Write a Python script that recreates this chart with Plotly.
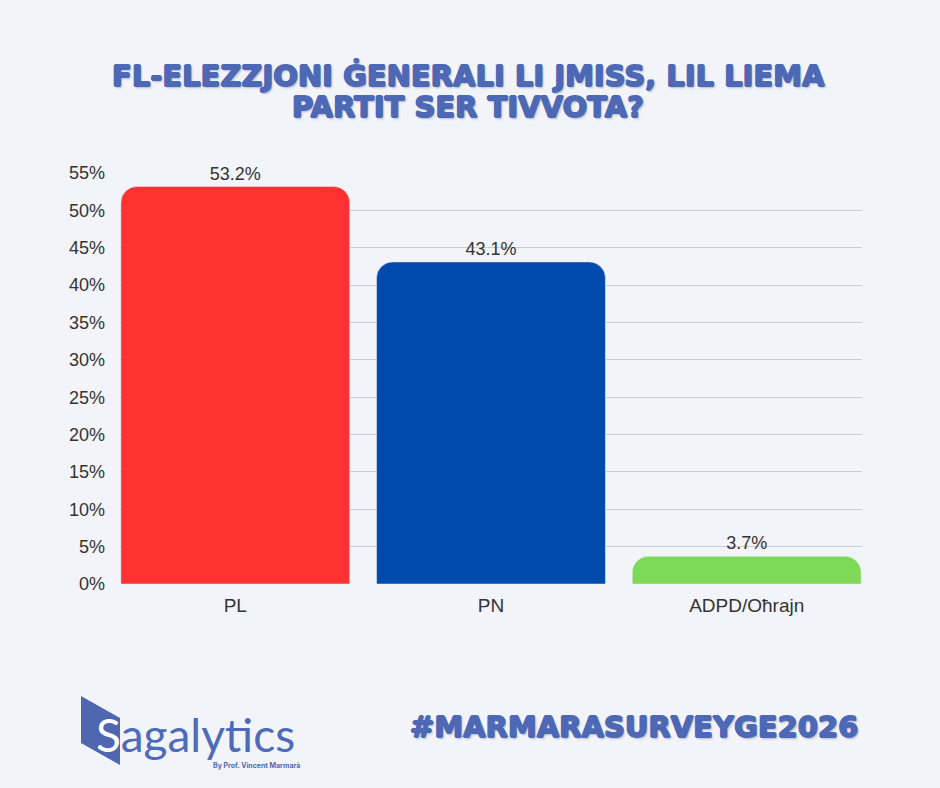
import plotly.graph_objects as go

categories = ["PL", "PN", "ADPD/Oħrajn"]
values = [53.2, 43.1, 3.7]
labels = ["53.2%", "43.1%", "3.7%"]
colors = ["#ff3131", "#004aad", "#7ed957"]
y_ticks = [0, 5, 10, 15, 20, 25, 30, 35, 40, 45, 50, 55]
title_lines = ["FL-ELEZZJONI ĠENERALI LI JMISS, LIL LIEMA", "PARTIT SER TIVVOTA?"]

BG = "#f3f4f9"
BLUE = "#4d69b5"

# plot area pixels
L, R, T, B = 120, 862, 173, 584
W, H = 940, 788

def px(x):
    return (x - L) / (R - L)

def py(y):
    return (B - y) / (B - T)

fig = go.Figure()
fig.add_trace(go.Bar(
    x=categories, y=values, marker_color=colors, width=0.895,
    text=labels, textposition="outside", cliponaxis=False,
    textfont=dict(family="Liberation Sans, Arial", size=18, color="#333333"),
    hoverinfo="skip",
))

fig.update_layout(
    width=W, height=H,
    paper_bgcolor=BG, plot_bgcolor=BG,
    margin=dict(l=L, r=W - R, t=T, b=H - B),
    barcornerradius=16,
    showlegend=False,
    xaxis=dict(
        range=[-0.451, 2.451], showgrid=False, zeroline=False, showline=False,
        ticks="", ticklabelstandoff=8,
        tickfont=dict(family="Liberation Sans, Arial", size=19, color="#333333"),
    ),
    yaxis=dict(
        range=[0, 55.01], tickvals=y_ticks, ticktext=[f"{v}%" for v in y_ticks],
        showgrid=True, gridcolor="#c9ccd6", gridwidth=1, zeroline=False,
        ticks="", ticklabelstandoff=14,
        tickfont=dict(family="Liberation Sans, Arial", size=18, color="#333333"),
    ),
)

thick = ("0.9px 0 0 {c}, -0.9px 0 0 {c}, 0 0.9px 0 {c}, 0 -0.9px 0 {c}, "
         "1.5px 2px 2px rgba(40,50,90,0.3)").format(c=BLUE)

for line, yc in zip(title_lines, [76, 107]):
    fig.add_annotation(
        xref="paper", yref="paper", x=px(468), y=py(yc), xanchor="center", yanchor="middle",
        text=line, showarrow=False,
        font=dict(family="DejaVu Sans", size=29, color=BLUE, weight=700, shadow=thick),
    )

# logo shape
fig.add_shape(
    type="path", xref="paper", yref="paper",
    path=f"M {px(81)} {py(696)} L {px(120)} {py(718)} L {px(120)} {py(765)} L {px(81)} {py(743)} Z",
    fillcolor="#4f66b1", line=dict(width=0), layer="above",
)
fig.add_annotation(
    xref="paper", yref="paper", x=px(94), y=py(734), xanchor="left", yanchor="middle",
    text="<span style='color:white'>S</span>agalytics", showarrow=False,
    font=dict(family="Lato", size=46, color="#4d6bb8"),
)
fig.add_annotation(
    xref="paper", yref="paper", x=px(302), y=py(765), xanchor="right", yanchor="middle",
    text="By Prof. Vincent Marmarà", showarrow=False,
    font=dict(family="Inter", size=7, color="#4d6bb8", weight=700),
)
fig.add_annotation(
    xref="paper", yref="paper", x=px(860), y=py(727), xanchor="right", yanchor="middle",
    text="#MARMARASURVEYGE2026", showarrow=False,
    font=dict(family="DejaVu Sans", size=29, color=BLUE, weight=700, shadow=thick),
)

fig.write_html("out.html", config={"displayModeBar": False},
               post_script="document.body.style.margin='0';")
